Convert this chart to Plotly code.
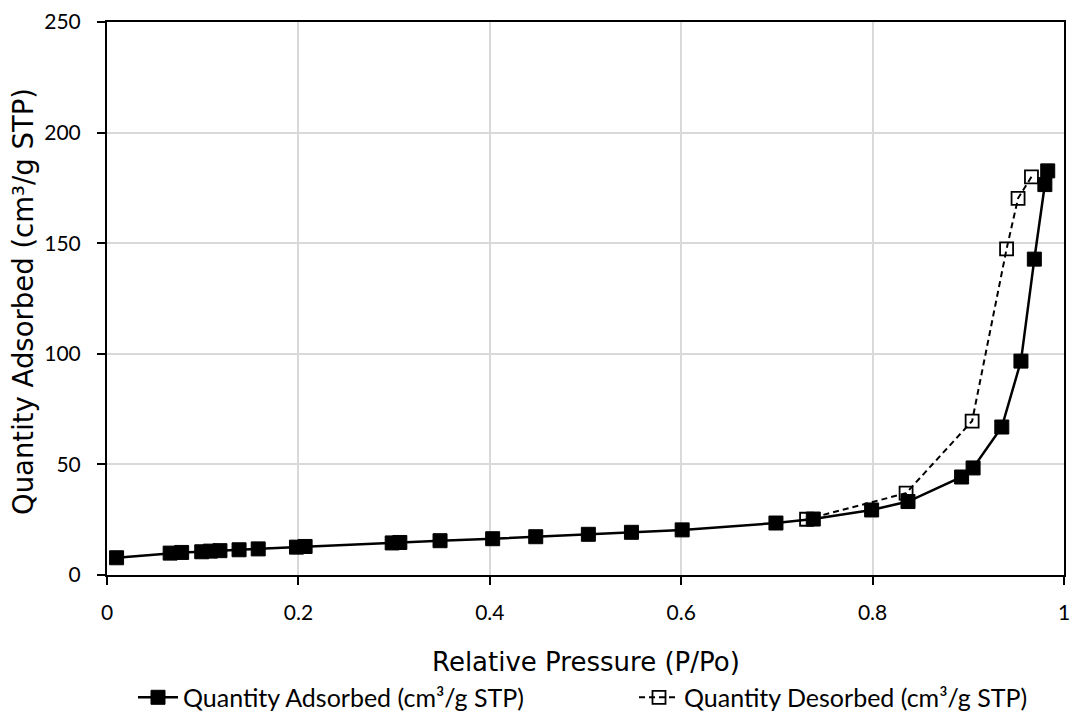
import plotly.graph_objects as go

# Nitrogen sorption isotherm data
ads_p = [0.010, 0.066, 0.078, 0.099, 0.108, 0.118, 0.138, 0.158, 0.198, 0.207,
         0.298, 0.306, 0.348, 0.403, 0.448, 0.503, 0.548, 0.601, 0.699, 0.738,
         0.799, 0.837, 0.893, 0.905, 0.935, 0.955, 0.969, 0.980, 0.983]
ads_q = [7.8, 9.9, 10.2, 10.5, 10.8, 11.0, 11.4, 11.8, 12.6, 12.9,
         14.5, 14.7, 15.5, 16.4, 17.3, 18.4, 19.3, 20.4, 23.5, 25.3,
         29.4, 33.2, 44.3, 48.4, 66.9, 96.7, 142.8, 176.5, 182.7]

des_p = [0.966, 0.952, 0.940, 0.904, 0.835, 0.731]
des_q = [180.0, 170.3, 147.4, 69.6, 37.0, 25.2]

x_ticks = [0, 0.2, 0.4, 0.6, 0.8, 1]
x_tick_text = ["0", "0.2", "0.4", "0.6", "0.8", "1"]
y_ticks = [0, 50, 100, 150, 200, 250]

x_title = "Relative Pressure (P/Po)"
y_title = "Quantity Adsorbed (cm³/g STP)"

tick_font = dict(family="Lato", size=21, color="#000")
legend_font = dict(family="Lato", size=25, color="#000")

fig = go.Figure()
fig.add_trace(go.Scatter(
    x=ads_p, y=ads_q, mode="lines+markers",
    name="Quantity Adsorbed (cm³/g STP)",
    line=dict(color="#000", width=2.5),
    marker=dict(symbol="square", size=14, color="#000", line=dict(color="#000", width=1)),
    legend="legend",
))
fig.add_trace(go.Scatter(
    x=des_p, y=des_q, mode="lines+markers",
    name="Quantity Desorbed (cm³/g STP)",
    line=dict(color="#000", width=2, dash="6px,4px"),
    marker=dict(symbol="square-open", size=13, color="#000", line=dict(color="#000", width=1.8)),
    legend="legend2",
))

# one legend box per series, side by side below the plot
legend_common = dict(orientation="h", yref="paper", y=-0.18, yanchor="top",
                     xref="container", xanchor="left", font=legend_font,
                     bgcolor="rgba(0,0,0,0)", itemwidth=40)

# axis titles placed as annotations relative to the plotting area
title_annotations = [
    dict(text=x_title, xref="paper", yref="paper", x=0.5, y=-0.157,
         xanchor="center", yanchor="middle", showarrow=False,
         font=dict(family="DejaVu Sans", size=26, color="#000")),
    dict(text=y_title, xref="paper", yref="paper", x=-0.087, y=0.495,
         xanchor="center", yanchor="middle", showarrow=False, textangle=-90,
         font=dict(family="DejaVu Sans", size=27.5, color="#000")),
]

fig.update_layout(
    width=1072, height=725,
    margin=dict(l=107, r=8, t=22, b=150, autoexpand=False),
    paper_bgcolor="white", plot_bgcolor="white",
    showlegend=True,
    legend=dict(legend_common, x=133 / 1072),
    legend2=dict(legend_common, x=634 / 1072),
    annotations=title_annotations,
    xaxis=dict(
        range=[0, 1], tickvals=x_ticks, ticktext=x_tick_text,
        showline=True, linecolor="#000", linewidth=2, mirror=True,
        ticks="outside", ticklen=8, tickcolor="#000", tickwidth=1.5,
        ticklabelstandoff=10,
        showgrid=True, gridcolor="#d9d9d9", gridwidth=1.5, zeroline=False,
        tickfont=tick_font,
    ),
    yaxis=dict(
        range=[0, 250], tickvals=y_ticks,
        showline=True, linecolor="#000", linewidth=2, mirror=True,
        ticks="outside", ticklen=8, tickcolor="#000", tickwidth=1.5,
        ticklabelstandoff=12,
        showgrid=True, gridcolor="#d9d9d9", gridwidth=1.5, zeroline=False,
        tickfont=tick_font,
    ),
)

fig.write_html("out.html")
